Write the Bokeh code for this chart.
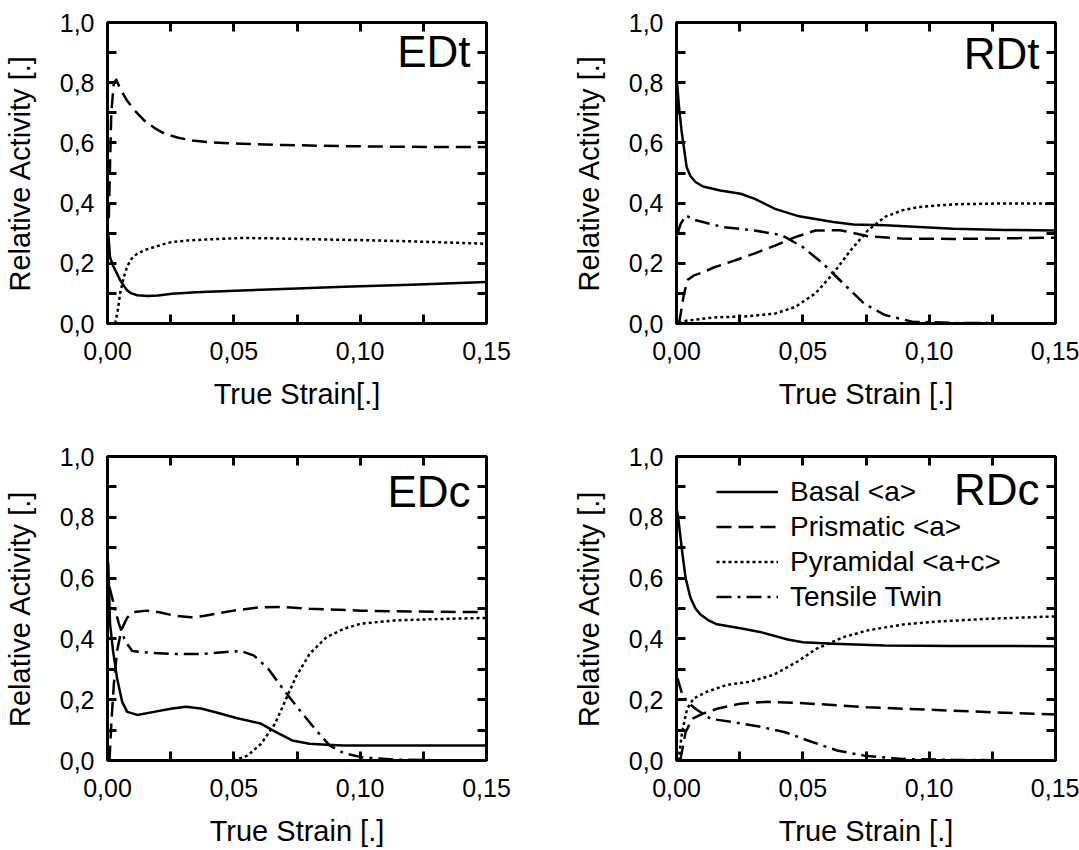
from bokeh.plotting import figure
from bokeh.models import (Range1d, FixedTicker, LinearAxis, CustomJSTickFormatter,
                          Label, Legend, LegendItem)
from bokeh.layouts import column, row
from bokeh.embed import file_html
from bokeh.resources import INLINE

FONT = "Liberation Sans"

# ---------------- data ----------------
x_ticks = [0.0, 0.05, 0.10, 0.15]
x_minor = [0.025, 0.075, 0.125]
y_ticks = [0.0, 0.2, 0.4, 0.6, 0.8, 1.0]
y_minor = [0.1, 0.3, 0.5, 0.7, 0.9]

series_names = ["Basal <a>", "Prismatic <a>", "Pyramidal <a+c>", "Tensile Twin"]

# EDt
edt_basal_x = [0.0003, 0.001, 0.0023, 0.0035, 0.005, 0.0065, 0.0078, 0.0095, 0.0118, 0.016, 0.02, 0.0255, 0.035, 0.053, 0.075, 0.0935, 0.12, 0.15]
edt_basal_y = [0.30, 0.22, 0.19, 0.17, 0.144, 0.125, 0.11, 0.10, 0.094, 0.091, 0.093, 0.099, 0.104, 0.11, 0.116, 0.122, 0.129, 0.138]
edt_prism_x = [0.0005, 0.0015, 0.0025, 0.0035, 0.005, 0.0078, 0.0105, 0.0146, 0.0185, 0.0227, 0.028, 0.0336, 0.04, 0.053, 0.07, 0.0935, 0.12, 0.15]
edt_prism_y = [0.35, 0.70, 0.80, 0.81, 0.78, 0.74, 0.71, 0.674, 0.65, 0.63, 0.617, 0.608, 0.602, 0.597, 0.593, 0.589, 0.587, 0.586]
edt_pyr_x = [0.003, 0.004, 0.005, 0.0065, 0.0078, 0.0095, 0.0118, 0.015, 0.0186, 0.022, 0.0255, 0.032, 0.039, 0.053, 0.065, 0.08, 0.1, 0.12, 0.15]
edt_pyr_y = [0.0, 0.04, 0.10, 0.155, 0.19, 0.215, 0.232, 0.245, 0.254, 0.263, 0.271, 0.276, 0.279, 0.284, 0.283, 0.28, 0.277, 0.273, 0.265]

# RDt
rdt_basal_x = [0.0002, 0.001, 0.002, 0.003, 0.004, 0.0055, 0.0075, 0.0105, 0.0173, 0.0254, 0.031, 0.039, 0.0485, 0.062, 0.070, 0.0825, 0.1096, 0.13, 0.15]
rdt_basal_y = [0.80, 0.72, 0.64, 0.58, 0.52, 0.49, 0.47, 0.455, 0.442, 0.431, 0.414, 0.381, 0.356, 0.337, 0.329, 0.326, 0.315, 0.311, 0.309]
rdt_prism_x = [0.001, 0.002, 0.003, 0.0045, 0.007, 0.011, 0.0147, 0.0208, 0.0253, 0.031, 0.039, 0.047, 0.055, 0.0648, 0.0757, 0.089, 0.11, 0.13, 0.15]
rdt_prism_y = [0.0, 0.05, 0.10, 0.145, 0.16, 0.172, 0.186, 0.203, 0.216, 0.233, 0.259, 0.287, 0.309, 0.31, 0.29, 0.282, 0.281, 0.283, 0.285]
rdt_pyr_x = [0.001, 0.0037, 0.0145, 0.028, 0.039, 0.047, 0.055, 0.062, 0.0689, 0.0757, 0.0825, 0.0893, 0.096, 0.1096, 0.13, 0.15]
rdt_pyr_y = [0.0, 0.009, 0.02, 0.024, 0.033, 0.055, 0.10, 0.166, 0.243, 0.309, 0.354, 0.376, 0.387, 0.396, 0.399, 0.398]
rdt_twin_x = [0.0005, 0.0016, 0.0037, 0.0077, 0.0186, 0.031, 0.0417, 0.05, 0.058, 0.066, 0.0743, 0.0825, 0.0933, 0.11, 0.15]
rdt_twin_y = [0.30, 0.33, 0.359, 0.343, 0.32, 0.309, 0.293, 0.254, 0.199, 0.133, 0.066, 0.028, 0.006, 0.002, 0.0]

# EDc
edc_basal_x = [0.0003, 0.001, 0.0022, 0.0038, 0.0058, 0.0078, 0.0118, 0.0184, 0.025, 0.031, 0.037, 0.0435, 0.051, 0.0605, 0.0663, 0.0731, 0.0799, 0.0867, 0.0935, 0.12, 0.15]
edc_basal_y = [0.65, 0.45, 0.36, 0.27, 0.193, 0.16, 0.15, 0.16, 0.17, 0.177, 0.171, 0.157, 0.14, 0.122, 0.095, 0.066, 0.055, 0.052, 0.049, 0.049, 0.049]
edc_prism_x = [0.0008, 0.0015, 0.0025, 0.0038, 0.0055, 0.0078, 0.0103, 0.0157, 0.021, 0.026, 0.033, 0.038, 0.044, 0.05, 0.0605, 0.07, 0.08, 0.1, 0.12, 0.15]
edc_prism_y = [0.0, 0.12, 0.25, 0.36, 0.43, 0.47, 0.488, 0.493, 0.487, 0.477, 0.471, 0.475, 0.485, 0.493, 0.504, 0.505, 0.499, 0.493, 0.49, 0.488]
edc_pyr_x = [0.0, 0.03, 0.05, 0.0554, 0.0608, 0.0663, 0.0704, 0.0745, 0.08, 0.0867, 0.0935, 0.1003, 0.114, 0.134, 0.15]
edc_pyr_y = [0.0, 0.0, 0.0, 0.016, 0.055, 0.121, 0.197, 0.274, 0.351, 0.406, 0.433, 0.45, 0.461, 0.466, 0.469]
edc_twin_x = [0.0008, 0.002, 0.0032, 0.0045, 0.007, 0.0098, 0.0157, 0.0276, 0.037, 0.047, 0.053, 0.058, 0.0636, 0.0704, 0.0772, 0.0826, 0.088, 0.0935, 0.1003, 0.114, 0.13, 0.15]
edc_twin_y = [0.57, 0.53, 0.49, 0.45, 0.393, 0.36, 0.355, 0.35, 0.35, 0.357, 0.36, 0.345, 0.302, 0.225, 0.154, 0.099, 0.049, 0.024, 0.011, 0.003, 0.001, 0.0]

# RDc
rdc_basal_x = [0.0003, 0.0008, 0.0022, 0.0036, 0.0055, 0.0075, 0.0095, 0.0125, 0.016, 0.0253, 0.033, 0.044, 0.05, 0.062, 0.0825, 0.11, 0.15]
rdc_basal_y = [0.82, 0.79, 0.69, 0.60, 0.536, 0.50, 0.48, 0.462, 0.448, 0.435, 0.423, 0.398, 0.389, 0.384, 0.378, 0.377, 0.376]
rdc_prism_x = [0.0015, 0.0036, 0.0062, 0.0107, 0.016, 0.0253, 0.036, 0.046, 0.0553, 0.0757, 0.1096, 0.13, 0.15]
rdc_prism_y = [0.0, 0.093, 0.137, 0.155, 0.17, 0.187, 0.193, 0.19, 0.186, 0.175, 0.164, 0.157, 0.151]
rdc_pyr_x = [0.0008, 0.0022, 0.0042, 0.0068, 0.012, 0.02, 0.029, 0.0385, 0.048, 0.0553, 0.0662, 0.0757, 0.0893, 0.103, 0.123, 0.15]
rdc_pyr_y = [0.0, 0.093, 0.17, 0.204, 0.226, 0.249, 0.259, 0.282, 0.326, 0.367, 0.406, 0.428, 0.447, 0.457, 0.466, 0.474]
rdc_twin_x = [0.0004, 0.0022, 0.0042, 0.0082, 0.0135, 0.0226, 0.032, 0.043, 0.0526, 0.0635, 0.0743, 0.0893, 0.1096, 0.15]
rdc_twin_y = [0.27, 0.22, 0.193, 0.166, 0.137, 0.126, 0.113, 0.093, 0.064, 0.033, 0.016, 0.005, 0.002, 0.0]

# ---------------- styles ----------------
DASH = {"Basal <a>": "solid", "Prismatic <a>": "15 7",
        "Pyramidal <a+c>": "3 3", "Tensile Twin": "15 6 3 6"}

X_FMT = "return tick.toFixed(2).replace('.', ',');"
Y_FMT = "return tick.toFixed(1).replace('.', ',');"


def style_axis(ax):
    ax.axis_line_width = 3
    ax.axis_line_color = "black"
    ax.major_tick_in = 9
    ax.major_tick_out = 0
    ax.minor_tick_in = 9
    ax.minor_tick_out = 0
    ax.major_tick_line_width = 3
    ax.minor_tick_line_width = 3
    ax.major_tick_line_color = "black"
    ax.minor_tick_line_color = "black"
    ax.major_label_text_font = FONT
    ax.major_label_text_color = "black"
    ax.major_label_text_font_size = "25px"
    ax.axis_label_text_font = FONT
    ax.axis_label_text_font_size = "29px"
    ax.axis_label_text_font_style = "normal"
    ax.axis_label_text_color = "black"


def make_panel(name, curves, xlabel, width, height, bl, br, bt, bb, title_drop):
    p = figure(width=width, height=height, output_backend="svg", toolbar_location=None,
               x_range=Range1d(0, 0.15), y_range=Range1d(0, 1.0),
               min_border_left=bl, min_border_right=br, min_border_top=bt, min_border_bottom=bb,
               background_fill_color="white", border_fill_color="white")
    p.xgrid.visible = False
    p.ygrid.visible = False
    p.outline_line_color = "black"
    p.outline_line_width = 3

    xa = p.xaxis[0]
    xa.ticker = FixedTicker(ticks=x_ticks, minor_ticks=x_minor)
    xa.formatter = CustomJSTickFormatter(code=X_FMT)
    style_axis(xa)
    xa.axis_label = xlabel
    xa.major_label_standoff = 18
    xa.axis_label_standoff = 15

    ya = p.yaxis[0]
    ya.ticker = FixedTicker(ticks=y_ticks, minor_ticks=y_minor)
    ya.formatter = CustomJSTickFormatter(code=Y_FMT)
    style_axis(ya)
    ya.axis_label = "Relative Activity [.]"
    ya.major_label_standoff = 13
    ya.axis_label_standoff = 21

    # mirrored tick marks on top and right (all drawn as unlabelled minor ticks)
    top = LinearAxis(ticker=FixedTicker(ticks=[], minor_ticks=x_ticks + x_minor))
    style_axis(top)
    p.add_layout(top, "above")
    right = LinearAxis(ticker=FixedTicker(ticks=[], minor_ticks=y_ticks + y_minor))
    style_axis(right)
    p.add_layout(right, "right")

    renderers = {}
    for label, (xs, ys) in curves.items():
        r = p.line(xs, ys, line_color="black", line_width=2.5,
                   line_dash=DASH[label], line_join="round")
        renderers[label] = r

    fw = width - bl - br
    fh = height - bt - bb
    p.add_layout(Label(x=fw - 16, y=fh - title_drop, x_units="screen", y_units="screen",
                       text=name, text_align="right", text_baseline="alphabetic",
                       text_font=FONT, text_font_size="44px", text_color="black"))
    return p, renderers


p1, _ = make_panel("EDt", {"Basal <a>": (edt_basal_x, edt_basal_y),
                           "Prismatic <a>": (edt_prism_x, edt_prism_y),
                           "Pyramidal <a+c>": (edt_pyr_x, edt_pyr_y)},
                   "True Strain[.]", 540, 420, 107, 54, 22, 97, 29)
p2, _ = make_panel("RDt", {"Basal <a>": (rdt_basal_x, rdt_basal_y),
                           "Prismatic <a>": (rdt_prism_x, rdt_prism_y),
                           "Pyramidal <a+c>": (rdt_pyr_x, rdt_pyr_y),
                           "Tensile Twin": (rdt_twin_x, rdt_twin_y)},
                   "True Strain [.]", 539, 420, 136, 24, 22, 97, 31)
p3, _ = make_panel("EDc", {"Basal <a>": (edc_basal_x, edc_basal_y),
                           "Prismatic <a>": (edc_prism_x, edc_prism_y),
                           "Pyramidal <a+c>": (edc_pyr_x, edc_pyr_y),
                           "Tensile Twin": (edc_twin_x, edc_twin_y)},
                   "True Strain [.]", 540, 430, 107, 54, 36, 90, 35)
p4, r4 = make_panel("RDc", {"Basal <a>": (rdc_basal_x, rdc_basal_y),
                            "Prismatic <a>": (rdc_prism_x, rdc_prism_y),
                            "Pyramidal <a+c>": (rdc_pyr_x, rdc_pyr_y),
                            "Tensile Twin": (rdc_twin_x, rdc_twin_y)},
                    "True Strain [.]", 539, 430, 136, 24, 36, 90, 33)

legend = Legend(items=[LegendItem(label=n, renderers=[r4[n]]) for n in series_names],
                location=(40, 146), glyph_width=62, glyph_height=35, label_height=35,
                label_standoff=12, spacing=0, padding=0, margin=0,
                label_text_font=FONT, label_text_font_size="28px", label_text_color="black",
                border_line_alpha=0, background_fill_alpha=0)
p4.add_layout(legend)

layout = column(row(p1, p2), row(p3, p4))
open("out.html", "w").write(file_html(layout, INLINE))
